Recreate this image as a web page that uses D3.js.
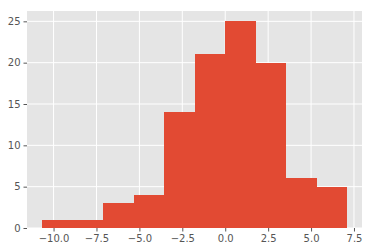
<!DOCTYPE html>
<html>
<head>
<meta charset="utf-8">
<script src="https://cdn.jsdelivr.net/npm/d3@7"></script>
<style>
  body { margin: 0; background: #fff; }
  text { font-family: "DejaVu Sans", sans-serif; }
</style>
</head>
<body>
<div id="chart"></div>
<script>
// histogram bins (10 equal bins) and counts
const binMin = -10.66;
const binMax = 7.08;
const counts = [1, 1, 3, 4, 14, 21, 25, 20, 6, 5];
const xTicks = [-10.0, -7.5, -5.0, -2.5, 0.0, 2.5, 5.0, 7.5];
const yTicks = [0, 5, 10, 15, 20, 25];

const width = 372, height = 252;
const margin = { top: 11, right: 10, bottom: 24, left: 27 };
const w = width - margin.left - margin.right;
const h = height - margin.top - margin.bottom;

const binWidth = (binMax - binMin) / counts.length;
const bins = counts.map((c, i) => ({ x0: binMin + i * binWidth, x1: binMin + (i + 1) * binWidth, n: c }));

const pad = (binMax - binMin) * 0.05;
const x = d3.scaleLinear().domain([binMin - pad, binMax + pad]).range([0, w]);
const y = d3.scaleLinear().domain([0, d3.max(counts) * 1.05]).range([h, 0]);

const svg = d3.select('#chart').append('svg')
  .attr('width', width)
  .attr('height', height)
  .append('g')
  .attr('transform', 'translate(' + margin.left + ',' + margin.top + ')');

// Background
svg.append('rect')
  .attr('width', w)
  .attr('height', h)
  .attr('fill', '#e5e5e5');

// Grid
svg.append('g').selectAll('line')
  .data(xTicks)
  .enter().append('line')
  .attr('x1', d => x(d)).attr('x2', d => x(d))
  .attr('y1', 0).attr('y2', h)
  .attr('stroke', '#fff').attr('stroke-width', 1);
svg.append('g').selectAll('line')
  .data(yTicks)
  .enter().append('line')
  .attr('x1', 0).attr('x2', w)
  .attr('y1', d => y(d)).attr('y2', d => y(d))
  .attr('stroke', '#fff').attr('stroke-width', 1);

// Bars (crisp edges so neighbouring bars don't show a seam)
svg.append('g').selectAll('rect')
  .data(bins)
  .enter().append('rect')
  .attr('x', d => x(d.x0))
  .attr('width', d => x(d.x1) - x(d.x0) + 0.5)
  .attr('y', d => y(d.n))
  .attr('height', d => h - y(d.n))
  .attr('fill', '#e24a33')
  .attr('shape-rendering', 'crispEdges');

// Axes
const fmt = d => d.toFixed(1).replace('-', '\u2212');
const xAxis = svg.append('g')
  .attr('transform', 'translate(0,' + h + ')')
  .call(d3.axisBottom(x).tickValues(xTicks).tickFormat(fmt).tickSizeInner(3.5).tickSizeOuter(0).tickPadding(3));
const yAxis = svg.append('g')
  .call(d3.axisLeft(y).tickValues(yTicks).tickFormat(d3.format('d')).tickSizeInner(3.5).tickSizeOuter(0).tickPadding(3));

[xAxis, yAxis].forEach(a => {
  a.select('.domain').remove();
  a.selectAll('line').attr('stroke', '#555');
  a.selectAll('text').attr('fill', '#555').style('font-size', '10px');
});
</script>
</body>
</html>
